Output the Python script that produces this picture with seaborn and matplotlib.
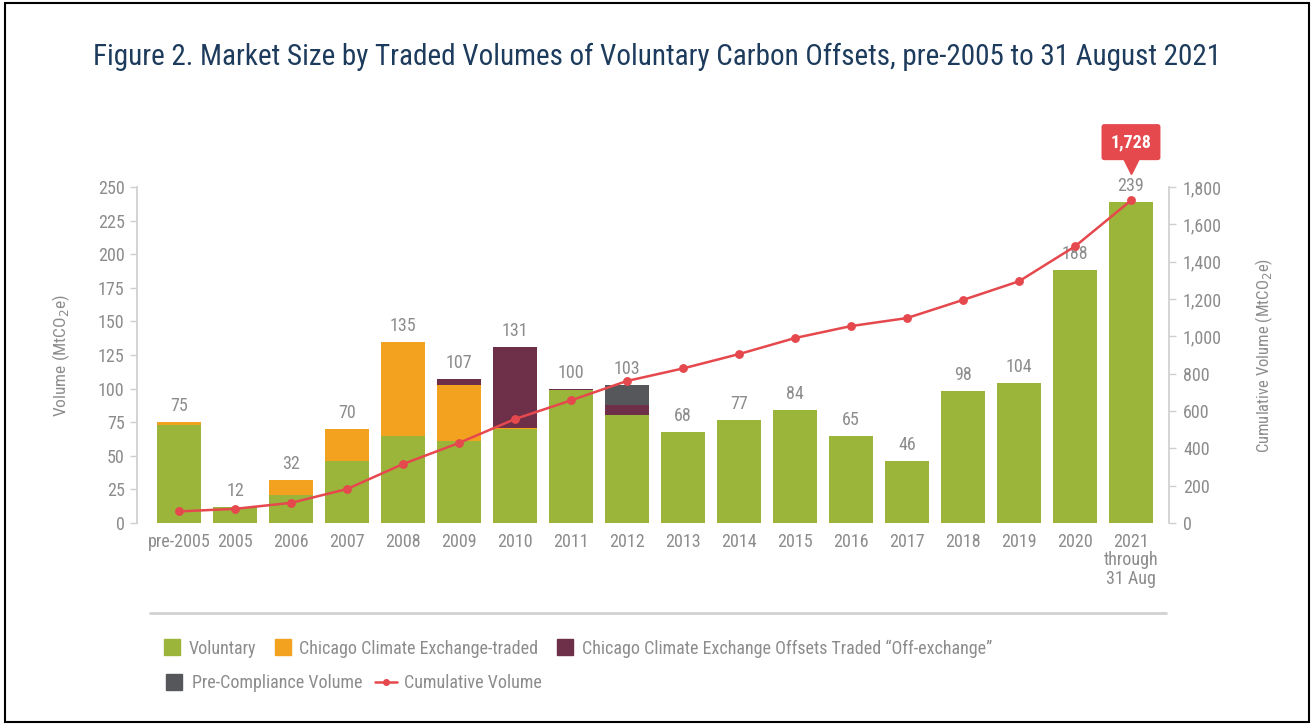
import matplotlib

matplotlib.use("Agg")

import matplotlib.pyplot as plt
import seaborn as sns
from matplotlib.lines import Line2D
from matplotlib.patches import Rectangle
from matplotlib.ticker import FuncFormatter
from matplotlib.transforms import ScaledTranslation

# values (MtCO2e)
years = [
    "pre-2005", "2005", "2006", "2007", "2008", "2009", "2010", "2011", "2012",
    "2013", "2014", "2015", "2016", "2017", "2018", "2019", "2020",
    "2021\nthrough\n31 Aug",
]
voluntary = [73, 12, 21, 46, 65, 61, 70, 99, 80, 68, 77, 84, 65, 46, 98, 104, 188, 239]
ccx_traded = [2, 0, 11, 24, 70, 42, 1, 0, 0, 0, 0, 0, 0, 0, 0, 0, 0, 0]
ccx_off_exchange = [0, 0, 0, 0, 0, 4, 60, 1, 8, 0, 0, 0, 0, 0, 0, 0, 0, 0]
pre_compliance = [0, 0, 0, 0, 0, 0, 0, 0, 15, 0, 0, 0, 0, 0, 0, 0, 0, 0]
cumulative = [62, 76, 108, 182, 316, 429, 557, 657, 761, 828, 905, 991, 1055,
              1098, 1195, 1295, 1482, 1728]

series_labels = [
    "Voluntary",
    "Chicago Climate Exchange-traded",
    "Chicago Climate Exchange Offsets Traded \u201cOff-exchange\u201d",
    "Pre-Compliance Volume",
    "Cumulative Volume",
]

GREEN = "#9bb53a"
ORANGE = "#f3a21f"
MAROON = "#6d3048"
DARK_GREY = "#55575b"
RED = "#e5484d"
TEXT_GREY = "#8c8c8c"
AXIS_GREY = "#cfcfcf"
NAVY = "#1d3b5c"

sns.set_theme(style="white")
plt.rcParams["font.family"] = ["Roboto Condensed", "Roboto", "DejaVu Sans"]

fig = plt.figure(figsize=(13.14, 7.26), dpi=100)
ax = fig.add_axes([0.1043, 0.2796, 0.7854, 0.4628])

# stacked bars: draw cumulative layer tops from the tallest down
top_vol = voluntary
top_ccx = [a + b for a, b in zip(top_vol, ccx_traded)]
top_off = [a + b for a, b in zip(top_ccx, ccx_off_exchange)]
top_pre = [a + b for a, b in zip(top_off, pre_compliance)]

for tops, colour in [(top_pre, DARK_GREY), (top_off, MAROON),
                     (top_ccx, ORANGE), (top_vol, GREEN)]:
    sns.barplot(x=years, y=tops, color=colour, saturation=1, width=0.8,
                linewidth=0, ax=ax)

ax.bar_label(ax.containers[0], labels=[str(v) for v in top_pre], padding=5,
             color=TEXT_GREY, fontsize=13)

ax2 = ax.twinx()
sns.pointplot(x=years, y=cumulative, color=RED, markers="o", markersize=5,
              linewidth=1.8, errorbar=None, ax=ax2)

ax.set_ylim(0, 250)
ax2.set_ylim(0, 1800)
ax.set_xlim(-0.75, 17.68)
ax.set_yticks(range(0, 251, 25))
ax2.set_yticks(range(0, 1801, 200))
ax2.yaxis.set_major_formatter(FuncFormatter(lambda v, _: f"{int(v):,}"))

for a in (ax, ax2):
    for side in ("top", "bottom"):
        a.spines[side].set_visible(False)
    a.grid(False)
ax.spines["right"].set_visible(False)
ax2.spines["left"].set_visible(False)
ax.spines["left"].set_color(AXIS_GREY)
ax.spines["left"].set_bounds(0, 250)
ax2.spines["right"].set_color(AXIS_GREY)
ax2.spines["right"].set_bounds(0, 1800)

ax.tick_params(axis="y", colors=AXIS_GREY, labelcolor=TEXT_GREY, length=5,
               width=1, labelsize=13, pad=4, left=True)
ax2.tick_params(axis="y", colors=AXIS_GREY, labelcolor=TEXT_GREY, length=5,
                width=1, labelsize=13, pad=5, right=True)
ax.tick_params(axis="x", length=0, labelcolor=TEXT_GREY, labelsize=13, pad=7)
for lbl in ax.get_xticklabels():
    lbl.set_linespacing(1.05)
ax2.set_xlabel("")

ax.set_ylabel("Volume (MtCO$_2$e)", color=TEXT_GREY, fontsize=12.5)
ax.yaxis.set_label_coords(-0.063, 0.5)
ax2.set_ylabel("Cumulative Volume (MtCO$_2$e)", color=TEXT_GREY, fontsize=12,
               rotation=90)
ax2.yaxis.set_label_coords(1.082, 0.5)

# callout for the final cumulative total
last = len(years) - 1
ax2.annotate(f"{cumulative[-1]:,}", xy=(last, cumulative[-1]),
             xytext=(0, 42), textcoords="offset points", ha="center",
             va="center", color="white", fontsize=13, fontweight="bold",
             bbox=dict(boxstyle="round,pad=0.5,rounding_size=0.15",
                       fc=RED, ec="none"))
ax2.plot([last], [cumulative[-1]], marker="v", ms=11, color=RED, ls="",
         transform=ax2.transData + ScaledTranslation(0, 25 / 72, fig.dpi_scale_trans),
         clip_on=False)

fig.text(0.5, 0.921,
         "Figure 2. Market Size by Traded Volumes of Voluntary Carbon Offsets, "
         "pre-2005 to 31 August 2021",
         ha="center", va="center", fontsize=21, color=NAVY)

fig.add_artist(Line2D([0.114, 0.887], [0.156, 0.156], transform=fig.transFigure,
                      color="#d2d2d2", lw=2))

square = dict(marker="s", ls="", ms=11)
row1 = [Line2D([], [], color=GREEN, **square),
        Line2D([], [], color=ORANGE, **square),
        Line2D([], [], color=MAROON, **square)]
row2 = [Line2D([], [], color=DARK_GREY, **square),
        Line2D([], [], color=RED, marker="o", ms=4, lw=1.8)]
leg_style = dict(frameon=False, fontsize=13, labelcolor=TEXT_GREY,
                 handletextpad=0.4, borderaxespad=0, borderpad=0)
fig.legend(row1, series_labels[:3], loc="center left", ncol=3,
           bbox_to_anchor=(0.124, 0.107), handlelength=1.0, columnspacing=1.0,
           **leg_style)
fig.legend(row2, series_labels[3:], loc="center left", ncol=2,
           bbox_to_anchor=(0.124, 0.059), handlelength=1.2, columnspacing=0.7,
           **leg_style)

fig.add_artist(Rectangle((0.004, 0.006), 0.992, 0.99, transform=fig.transFigure,
                         fill=False, ec="black", lw=1.5))

fig.savefig("out.png", dpi=100)
